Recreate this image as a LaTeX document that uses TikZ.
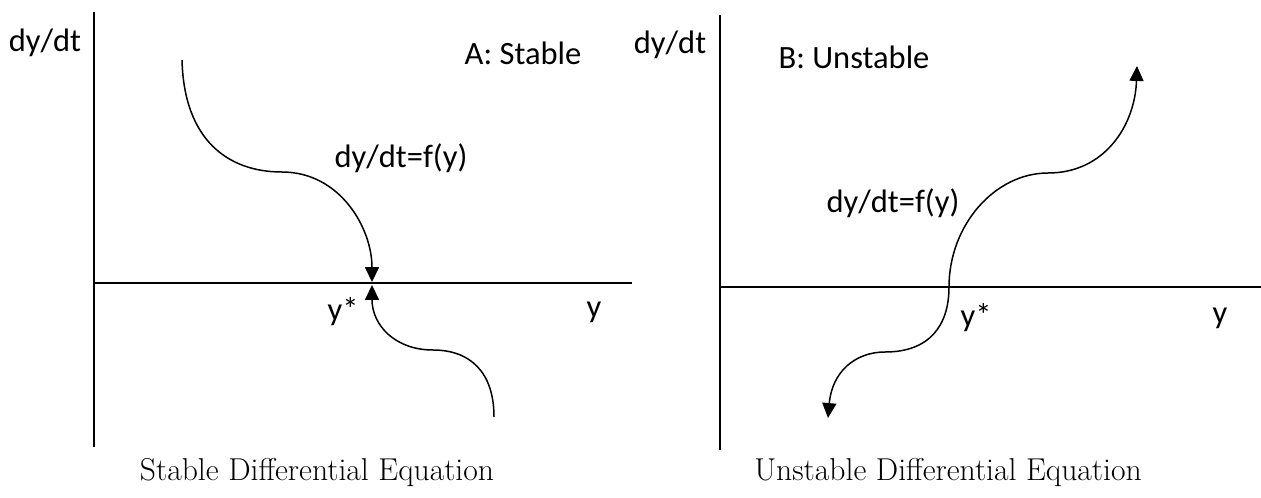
\documentclass[tikz,border=0pt]{standalone}
\usepackage{fontspec}
\usepackage{tikz}
\usetikzlibrary{arrows.meta}
\newfontfamily\calfont{Carlito}

\begin{document}
\begin{tikzpicture}[
    x=0.02cm, y=-0.02cm,
    axis/.style={line width=1.1pt},
    curve/.style={line width=0.85pt, >={Triangle[length=8.5pt,width=8pt]}},
    lbl/.style={inner sep=0pt, font=\calfont\fontsize{18.5}{21}\selectfont},
    caption/.style={inner sep=0pt, font=\fontsize{18}{22}\selectfont}
]
\useasboundingbox (0,0) rectangle (1261,497);

% Panel A: stable
\coordinate (aTop) at (94,12);
\coordinate (aBot) at (94,447);
\coordinate (aLeft) at (93,283);
\coordinate (aRight) at (632,283);
\draw[axis] (aTop) -- (aBot);
\draw[axis] (aLeft) -- (aRight);

\node[lbl] (dyA) at (45,43) {dy/dt};
\node[lbl] (titleA) at (523,53) {A: Stable};
\node[lbl] (fyA) at (401,158) {dy/dt=f(y)};
\node[lbl] (ystarA) at (343,312) {y*};
\node[lbl] (yA) at (594,312) {y};

% flows into y*
\draw[curve, ->] (182,60) .. controls (184,140) and (228,172) .. (282,172)
    .. controls (340,172) and (372,228) .. (372,282);
\draw[curve, ->] (494,417) .. controls (494,372) and (470,350) .. (433,350)
    .. controls (395,350) and (372,325) .. (372,285);

\node[caption] (capA) at (317,472) {Stable Differential Equation};

% Panel B: unstable
\coordinate (bTop) at (720,15);
\coordinate (bBot) at (720,450);
\coordinate (bLeft) at (719,287);
\coordinate (bRight) at (1261,287);
\draw[axis] (bTop) -- (bBot);
\draw[axis] (bLeft) -- (bRight);

\node[lbl] (dyB) at (670,45) {dy/dt};
\node[lbl] (titleB) at (854,57) {B: Unstable};
\node[lbl] (fyB) at (893,203) {dy/dt=f(y)};
\node[lbl] (ystarB) at (976,318) {y*};
\node[lbl] (yB) at (1220,318) {y};

% flows away from y*
\draw[curve, <->] (828,418) .. controls (832,372) and (855,352) .. (885,352)
    .. controls (930,352) and (949,325) .. (949,287)
    .. controls (949,225) and (995,173) .. (1048,173)
    .. controls (1105,173) and (1135,125) .. (1137,66);

\node[caption] (capB) at (948,472) {Unstable Differential Equation};

\end{tikzpicture}
\end{document}
